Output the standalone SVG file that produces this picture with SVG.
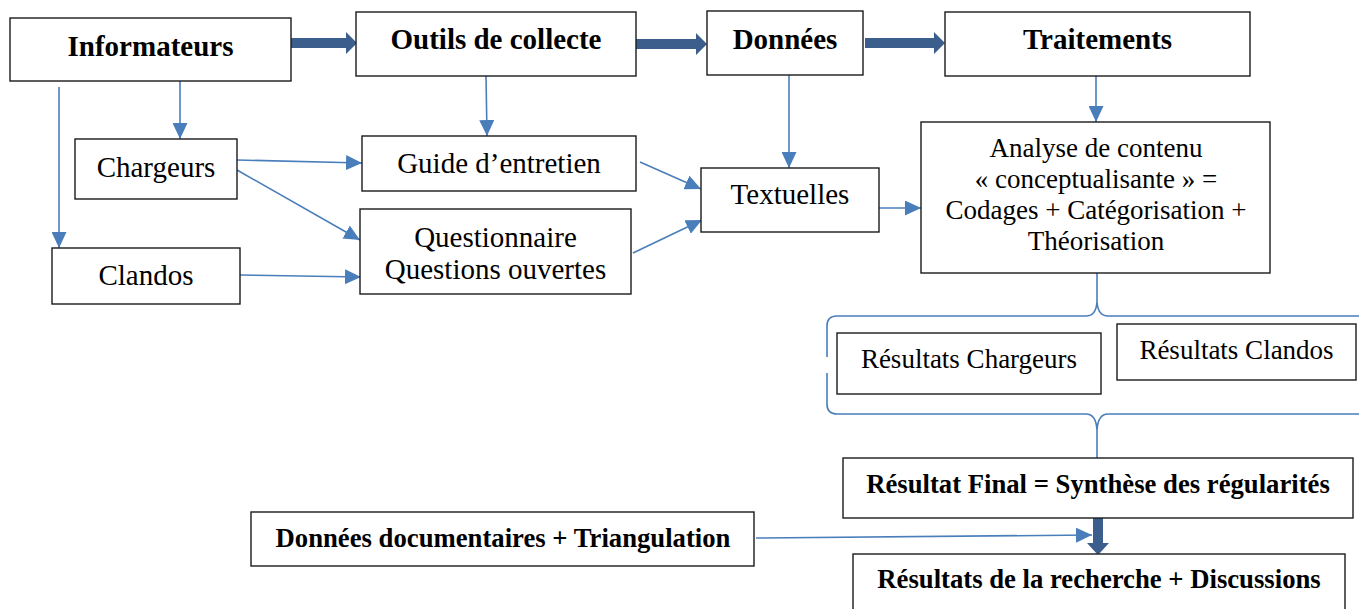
<svg xmlns="http://www.w3.org/2000/svg" width="1359" height="609" viewBox="0 0 1359 609">
<style>
.box{fill:#fff;stroke:#1a1a1a;stroke-width:1.4}
.t{font-family:"Liberation Serif","Times New Roman",serif;fill:#000;text-anchor:middle}
.h{font-size:29px;font-weight:bold}
.hb{font-size:26.7px;font-weight:bold}
.r{font-size:29px}
.s{font-size:27px}
.c{fill:none;stroke:#4A7EBB;stroke-width:1.6}
.thick{fill:#3B5E8C;stroke:none}
</style>
<defs>
<marker id="ah" markerUnits="userSpaceOnUse" markerWidth="16" markerHeight="15" refX="16" refY="7.5" orient="auto">
<path d="M0,0 L16,7.5 L0,15 z" fill="#4A7EBB"/>
</marker>
</defs>
<rect width="1359" height="609" fill="#fff"/>

<g id="connectors">
<path class="c" d="M180,80 V139" marker-end="url(#ah)"/>
<path class="c" d="M59,87 V248" marker-end="url(#ah)"/>
<path class="c" d="M486,76 L487,136" marker-end="url(#ah)"/>
<path class="c" d="M237,160 L362,163" marker-end="url(#ah)"/>
<path class="c" d="M237,170 L360,240" marker-end="url(#ah)"/>
<path class="c" d="M240,275 L361,277" marker-end="url(#ah)"/>
<path class="c" d="M789,75 V168" marker-end="url(#ah)"/>
<path class="c" d="M640,162 L701,189" marker-end="url(#ah)"/>
<path class="c" d="M633,253 L702,220" marker-end="url(#ah)"/>
<path class="c" d="M879,208 L921,208" marker-end="url(#ah)"/>
<path class="c" d="M1096,76 V122" marker-end="url(#ah)"/>
<path class="c" d="M756,538 L1092,535" marker-end="url(#ah)"/>
<!-- braces -->
<path class="c" d="M1097,273 V302"/>
<path class="c" d="M827,357 V326 Q827,316 837,316 H1086 Q1096,316 1097,302 Q1098,316 1108,316 H1365"/>
<path class="c" d="M827,373 V404 Q827,414 837,414 H1086 Q1096,414 1097,430 Q1098,414 1108,414 H1365"/>
<path class="c" d="M1097,430 V458"/>
<!-- thick arrows -->
<path class="thick" d="M288,38 H346 V32 L357,43 L346,54 V48 H288 z"/>
<path class="thick" d="M634,39 H696 V33 L707,44 L696,55 V49 H634 z"/>
<path class="thick" d="M865,38 H934 V32 L945,43 L934,54 V48 H865 z"/>
<path class="thick" d="M1093,518 V543 H1087 L1098,555 L1109,543 H1103 V518 z"/>
</g>

<g id="informateurs"><rect class="box" x="10" y="18" width="281" height="63"/><text class="t h" x="150.5" y="56">Informateurs</text></g>
<g id="outils"><rect class="box" x="356" y="12" width="280" height="64"/><text class="t h" x="496" y="49">Outils de collecte</text></g>
<g id="donnees"><rect class="box" x="707" y="11" width="156" height="64"/><text class="t h" x="785" y="49">Données</text></g>
<g id="traitements"><rect class="box" x="945" y="12" width="305" height="64"/><text class="t h" x="1097.5" y="49">Traitements</text></g>

<g id="chargeurs"><rect class="box" x="75" y="139" width="162" height="60"/><text class="t r" x="156" y="177">Chargeurs</text></g>
<g id="clandos"><rect class="box" x="52" y="248" width="188" height="56"/><text class="t r" x="146" y="285">Clandos</text></g>
<g id="guide"><rect class="box" x="362" y="136" width="274" height="55"/><text class="t r" x="499" y="173">Guide d’entretien</text></g>
<g id="questionnaire"><rect class="box" x="360" y="209" width="271" height="85"/><text class="t r" x="495.5" y="247">Questionnaire</text><text class="t r" x="495.5" y="279">Questions ouvertes</text></g>
<g id="textuelles"><rect class="box" x="701" y="168" width="178" height="64"/><text class="t r" x="790" y="204">Textuelles</text></g>
<g id="analyse"><rect class="box" x="921" y="122" width="349" height="151"/>
<text class="t s" x="1096" y="157">Analyse de contenu</text>
<text class="t s" x="1096" y="188">« conceptualisante » =</text>
<text class="t s" x="1096" y="219">Codages + Catégorisation +</text>
<text class="t s" x="1096" y="250">Théorisation</text></g>

<g id="resultats-chargeurs"><rect class="box" x="837" y="333" width="264" height="61"/><text class="t s" x="969" y="368">Résultats Chargeurs</text></g>
<g id="resultats-clandos"><rect class="box" x="1117" y="324" width="239" height="56"/><text class="t s" x="1236.5" y="359">Résultats Clandos</text></g>
<g id="resultat-final"><rect class="box" x="843" y="458" width="510" height="60"/><text class="t hb" x="1098" y="493">Résultat Final = Synthèse des régularités</text></g>
<g id="donnees-documentaires"><rect class="box" x="251" y="512" width="503" height="54"/><text class="t hb" x="503" y="547">Données documentaires + Triangulation</text></g>
<g id="resultats-recherche"><rect class="box" x="853" y="554" width="492" height="70"/><text class="t hb" x="1099" y="588">Résultats de la recherche + Discussions</text></g>
</svg>
